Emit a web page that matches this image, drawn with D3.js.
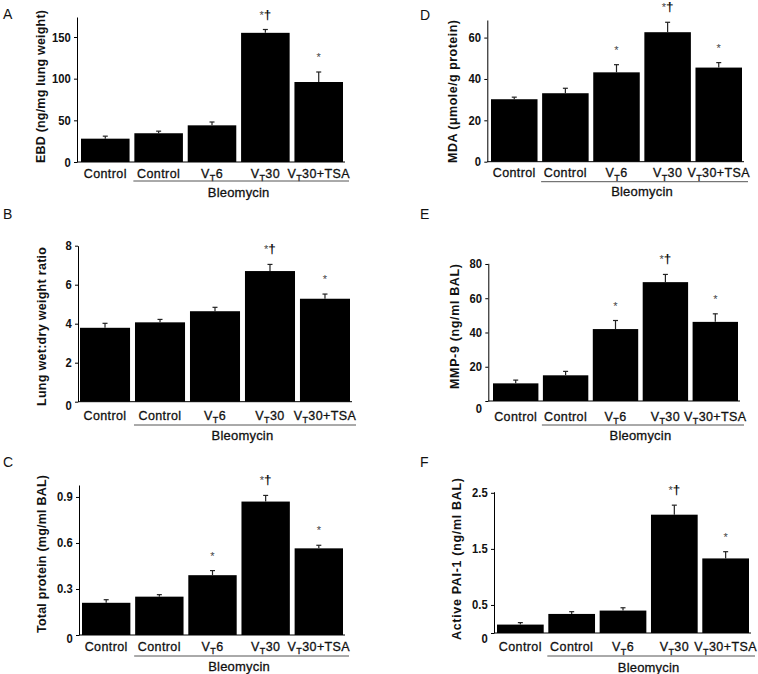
<!DOCTYPE html>
<html><head><meta charset="utf-8">
<script src="https://cdn.jsdelivr.net/npm/d3@7"></script>
<style>
html,body{margin:0;padding:0;background:#fff;}
svg{display:block;}
</style></head><body>
<svg id="chart" width="758" height="674"></svg>
<script>
// ---------- data ----------
const categories = ["Control", "Control", "V_T6", "V_T30", "V_T30+TSA"];
const groupLabel = "Bleomycin";
const panelLetters = ["A", "B", "C", "D", "E", "F"];
const yTitles = [
  "EBD (ng/mg lung weight)",
  "Lung wet:dry weight ratio",
  "Total protein (mg/ml BAL)",
  "MDA (\u03bcmole/g protein)",
  "MMP-9 (ng/ml BAL)",
  "Active PAI-1 (ng/ml BAL)"
];

const ebdValues = [28, 34.5, 44, 155, 96];
const ebdErrors = [3, 2.5, 4, 4, 12];
const wetDryValues = [3.79, 4.07, 4.64, 6.70, 5.28];
const wetDryErrors = [0.23, 0.15, 0.20, 0.34, 0.24];
const proteinValues = [0.21, 0.25, 0.39, 0.87, 0.565];
const proteinErrors = [0.02, 0.013, 0.03, 0.04, 0.02];
const mdaValues = [30.2, 33.1, 43.2, 62.6, 45.5];
const mdaErrors = [1.0, 2.4, 3.7, 4.8, 2.4];
const mmp9Values = [10.3, 15, 42, 69.4, 46.2];
const mmp9Errors = [1.9, 2.3, 5, 4.5, 4.7];
const pai1Values = [0.15, 0.34, 0.40, 2.11, 1.33];
const pai1Errors = [0.035, 0.04, 0.05, 0.17, 0.12];

const ticksA = [0, 50, 100, 150];
const ticksB = [0, 2, 4, 6, 8];
const ticksC = [0, 0.3, 0.6, 0.9];
const ticksD = [0, 20, 40, 60];
const ticksE = [0, 20, 40, 60, 80];
const ticksF = [0, 0.5, 1.5, 2.5];
const yMax = [174, 8, 0.978, 68.5, 80.4, 2.52];

const marksA = ["", "", "", "*\u2020", "*"];
const marksB = ["", "", "", "*\u2020", "*"];
const marksC = ["", "", "*", "*\u2020", "*"];
const marksD = ["", "", "*", "*\u2020", "*"];
const marksE = ["", "", "*", "*\u2020", "*"];
const marksF = ["", "", "", "*\u2020", "*"];

const panelValues = [ebdValues, wetDryValues, proteinValues, mdaValues, mmp9Values, pai1Values];
const panelErrors = [ebdErrors, wetDryErrors, proteinErrors, mdaErrors, mmp9Errors, pai1Errors];
const panelTicks = [ticksA, ticksB, ticksC, ticksD, ticksE, ticksF];
const panelMarks = [marksA, marksB, marksC, marksD, marksE, marksF];

// ---------- layout (positions only) ----------
const layout = [
  {lx: 3,   ly: 19,  ax: 77,    y0: 162,   yTop: 17,    L: 81,  R: 343, labDy: 15.5, lineDy: 19,   bleoDy: 30,   zeroDy: 0, tx: 41,    ty: 86.5,  tl: 153},
  {lx: 3,   ly: 219, ax: 78,    y0: 401.7, yTop: 245.7, L: 80,  R: 350, labDy: 18,   lineDy: 23.3, bleoDy: 33.3, zeroDy: 4, tx: 42,    ty: 326.5, tl: 159},
  {lx: 3,   ly: 467, ax: 79,    y0: 635,   yTop: 485,   L: 82,  R: 343, labDy: 15.5, lineDy: 21,   bleoDy: 31,   zeroDy: 3, tx: 42,    ty: 554,   tl: 158},
  {lx: 420, ly: 20,  ax: 487.3, y0: 161.7, yTop: 20,    L: 491, R: 742, labDy: 15.3, lineDy: 20,   bleoDy: 30,   zeroDy: 0, tx: 453,   ty: 91.5,  tl: 143},
  {lx: 420, ly: 219, ax: 488.3, y0: 401,   yTop: 263.3, L: 493, R: 738, labDy: 19.5, lineDy: 24,   bleoDy: 34,   zeroDy: 7, tx: 455,   ty: 326.5, tl: 125},
  {lx: 420, ly: 467, ax: 494,   y0: 633,   yTop: 491.7, L: 497, R: 749, labDy: 18,   lineDy: 23,   bleoDy: 34,   zeroDy: 5, tx: 456.7, ty: 559,   tl: 162}
];

const sans = "'Liberation Sans', Arial, sans-serif";

const svg = d3.select("#chart");

layout.forEach((lay, p) => {
  const values = panelValues[p], errors = panelErrors[p], marks = panelMarks[p];
  const g = svg.append("g");

  const x = d3.scaleBand().domain(d3.range(categories.length))
    .range([lay.L, lay.R]).paddingInner(0.09).paddingOuter(0);
  const y = d3.scaleLinear().domain([0, yMax[p]]).range([lay.y0, lay.yTop]);

  // panel letter
  g.append("text").attr("x", lay.lx).attr("y", lay.ly)
    .attr("font-family", sans).attr("font-size", 14).attr("fill", "#111")
    .text(panelLetters[p]);

  // bars
  g.selectAll("rect.bar").data(values).join("rect")
    .attr("class", "bar")
    .attr("x", (d, i) => x(i)).attr("width", x.bandwidth())
    .attr("y", d => y(d)).attr("height", d => y(0) - y(d))
    .attr("fill", "#000");

  // error bars
  const eb = g.selectAll("g.err").data(values).join("g").attr("class", "err");
  eb.append("line")
    .attr("x1", (d, i) => x(i) + x.bandwidth() / 2).attr("x2", (d, i) => x(i) + x.bandwidth() / 2)
    .attr("y1", d => y(d)).attr("y2", (d, i) => y(d + errors[i]))
    .attr("stroke", "#222").attr("stroke-width", 1.2);
  eb.append("line")
    .attr("x1", (d, i) => x(i) + x.bandwidth() / 2 - 2.5).attr("x2", (d, i) => x(i) + x.bandwidth() / 2 + 2.5)
    .attr("y1", (d, i) => y(d + errors[i])).attr("y2", (d, i) => y(d + errors[i]))
    .attr("stroke", "#222").attr("stroke-width", 1.2);

  // significance marks
  values.forEach((d, i) => {
    const m = marks[i];
    if (!m) return;
    const t = g.append("text")
      .attr("x", x(i) + x.bandwidth() / 2).attr("y", y(d + errors[i]) - 11)
      .attr("text-anchor", "middle").attr("font-family", sans);
    t.append("tspan").attr("font-size", 11).attr("fill", "#444").text("*");
    if (m.length > 1) t.append("tspan").attr("font-size", 13.5).attr("font-weight", "bold").attr("fill", "#111").text(m.slice(1));
  });

  // y axis
  const axis = d3.axisLeft(y).tickValues(panelTicks[p]).tickSize(3).tickSizeOuter(0).tickPadding(4)
    .tickFormat(d3.format("~g"));
  const ag = g.append("g").attr("transform", `translate(${lay.ax},0)`).call(axis);
  ag.select(".domain").attr("stroke", "#000").attr("stroke-width", 1);
  ag.selectAll(".tick line").attr("stroke", "#000");
  ag.selectAll(".tick text")
    .attr("font-family", sans).attr("font-size", 12.5).attr("font-weight", "bold").attr("fill", "#111")
    .attr("transform", d => `translate(0,${d === 0 ? lay.zeroDy : 0}) scale(0.9,1)`);

  // baseline
  g.append("line").attr("x1", lay.ax).attr("x2", lay.R + 2)
    .attr("y1", y(0)).attr("y2", y(0)).attr("stroke", "#000").attr("stroke-width", 1);

  // category labels
  categories.forEach((c, i) => {
    const t = g.append("text")
      .attr("x", x(i) + x.bandwidth() / 2).attr("y", lay.y0 + lay.labDy)
      .attr("text-anchor", "middle").attr("font-family", sans).attr("font-size", 12.5)
      .attr("letter-spacing", 0.4).attr("fill", "#111")
      .attr("stroke", "#111").attr("stroke-width", 0.3);
    if (c.startsWith("V_T")) {
      t.append("tspan").text("V");
      t.append("tspan").attr("dy", 3.5).attr("font-size", 9).text("T");
      t.append("tspan").attr("dy", -3.5).text(c.slice(3));
    } else {
      t.text(c);
    }
  });

  // group line + label
  const gx1 = x(1) - 1, gx2 = lay.R + 6;
  g.append("line").attr("x1", gx1).attr("x2", gx2)
    .attr("y1", lay.y0 + lay.lineDy).attr("y2", lay.y0 + lay.lineDy)
    .attr("stroke", "#555").attr("stroke-width", 1);
  g.append("text").attr("x", (x(1) + x(categories.length - 1) + x.bandwidth()) / 2)
    .attr("y", lay.y0 + lay.bleoDy).attr("dy", "0.35em")
    .attr("text-anchor", "middle").attr("font-family", sans).attr("font-size", 13)
    .attr("letter-spacing", 0.2).attr("fill", "#111")
    .attr("stroke", "#111").attr("stroke-width", 0.3)
    .text(groupLabel);

  // y title
  g.append("text")
    .attr("transform", `translate(${lay.tx},${lay.ty}) rotate(-90)`)
    .attr("dy", "0.35em").attr("text-anchor", "middle")
    .attr("font-family", sans).attr("font-size", 12.5).attr("font-weight", "bold").attr("fill", "#111")
    .attr("textLength", lay.tl).attr("lengthAdjust", "spacing")
    .text(yTitles[p]);
});
</script>
</body></html>
